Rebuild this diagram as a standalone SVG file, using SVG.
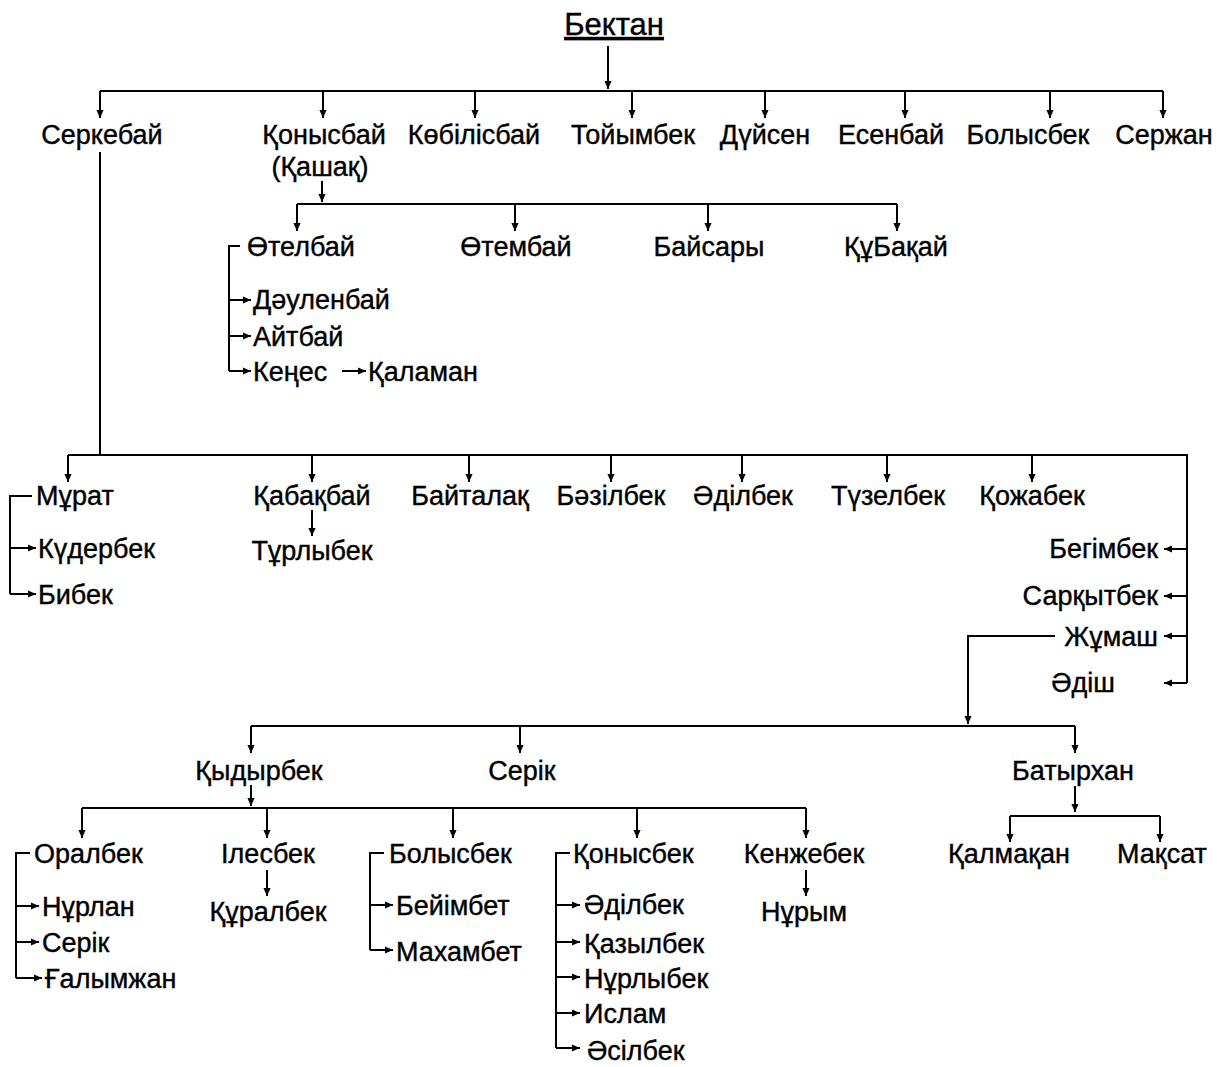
<svg xmlns="http://www.w3.org/2000/svg" width="1217" height="1067" viewBox="0 0 1217 1067">
<style>
text{font-family:"Liberation Sans",Arial,sans-serif;font-size:27px;fill:#000;stroke:#000;stroke-width:0.4}
.t{font-size:31px}
.m{text-anchor:middle}
.e{text-anchor:end}
.c{fill:none;stroke:#000;stroke-width:2}
.a{fill:none;stroke:#000;stroke-width:2;marker-end:url(#ah)}
</style>
<defs>
<marker id="ah" viewBox="0 0 10 10" refX="10" refY="5" markerWidth="10" markerHeight="8" orient="auto" markerUnits="userSpaceOnUse"><path d="M0,0.5 L10,5 L0,9.5 z" fill="#000"/></marker>
</defs>
<g id="connectors">
<path class="a" d="M608,46 V89"/>
<path class="c" d="M100,91 H1163"/>
<path class="a" d="M100,91 V118"/>
<path class="a" d="M323,91 V118"/>
<path class="a" d="M475,91 V118"/>
<path class="a" d="M632,91 V118"/>
<path class="a" d="M765,91 V118"/>
<path class="a" d="M905,91 V118"/>
<path class="a" d="M1050,91 V118"/>
<path class="a" d="M1163,91 V118"/>
<path class="a" d="M322,181 V202"/>
<path class="c" d="M297,204 H897"/>
<path class="a" d="M297,204 V231"/>
<path class="a" d="M515,204 V231"/>
<path class="a" d="M708,204 V231"/>
<path class="a" d="M897,204 V231"/>
<path class="c" d="M240,246 H229 V371"/>
<path class="a" d="M229,300 H251"/>
<path class="a" d="M229,336 H251"/>
<path class="a" d="M229,371 H251"/>
<path class="a" d="M342,371 H366"/>
<path class="c" d="M100,152 V455"/>
<path class="c" d="M68,455 H1187 V683"/>
<path class="a" d="M68,455 V482"/>
<path class="a" d="M312,455 V482"/>
<path class="a" d="M469,455 V482"/>
<path class="a" d="M611,455 V482"/>
<path class="a" d="M742,455 V482"/>
<path class="a" d="M887,455 V482"/>
<path class="a" d="M1032,455 V482"/>
<path class="a" d="M1187,549 H1164"/>
<path class="a" d="M1187,596 H1164"/>
<path class="a" d="M1187,636 H1164"/>
<path class="a" d="M1187,683 H1164"/>
<path class="c" d="M32,496 H10 V594"/>
<path class="a" d="M10,548 H36"/>
<path class="a" d="M10,594 H36"/>
<path class="a" d="M312,510 V536"/>
<path class="c" d="M1055,636 H968 V700"/>
<path class="a" d="M968,636 V724"/>
<path class="c" d="M251,726 H1075"/>
<path class="a" d="M251,726 V753"/>
<path class="a" d="M520,726 V753"/>
<path class="a" d="M1075,726 V753"/>
<path class="a" d="M251,785 V806"/>
<path class="c" d="M82,808 H806"/>
<path class="a" d="M82,808 V838"/>
<path class="a" d="M267,808 V838"/>
<path class="a" d="M453,808 V838"/>
<path class="a" d="M637,808 V838"/>
<path class="a" d="M806,808 V838"/>
<path class="a" d="M1075,786 V812"/>
<path class="c" d="M1010,816 H1160"/>
<path class="a" d="M1010,816 V842"/>
<path class="a" d="M1160,816 V842"/>
<path class="c" d="M30,853 H16 V978"/>
<path class="a" d="M16,906 H39"/>
<path class="a" d="M16,942 H39"/>
<path class="a" d="M16,978 H42"/>
<path class="a" d="M267,870 V896"/>
<path class="c" d="M384,853 H370 V950"/>
<path class="a" d="M370,905 H393"/>
<path class="a" d="M370,950 H393"/>
<path class="c" d="M570,853 H556 V1048"/>
<path class="a" d="M556,905 H580"/>
<path class="a" d="M556,942 H580"/>
<path class="a" d="M556,977 H580"/>
<path class="a" d="M556,1013 H580"/>
<path class="a" d="M556,1048 H580"/>
<path class="a" d="M806,870 V896"/>
</g>
<g id="n-bektan"><text class="m t" x="614" y="35" text-decoration="underline">Бектан</text></g>
<g id="n-serkebai"><text class="m" x="102" y="144">Серкебай</text></g>
<g id="n-konysbai"><text class="m" x="324" y="144">Қонысбай</text><text class="m" x="320" y="176">(Қашақ)</text></g>
<g id="n-kobilisbai"><text class="m" x="474" y="144">Көбілісбай</text></g>
<g id="n-toiymbek"><text class="m" x="633" y="144">Тойымбек</text></g>
<g id="n-duisen"><text class="m" x="765" y="144">Дүйсен</text></g>
<g id="n-esenbai"><text class="m" x="891" y="144">Есенбай</text></g>
<g id="n-bolysbek1"><text class="m" x="1028" y="144">Болысбек</text></g>
<g id="n-serzhan"><text class="m" x="1164" y="144">Сержан</text></g>
<g id="n-otelbai"><text x="247" y="256">Өтелбай</text></g>
<g id="n-otembai"><text class="m" x="516" y="256">Өтембай</text></g>
<g id="n-baisary"><text class="m" x="709" y="256">Байсары</text></g>
<g id="n-kubakai"><text class="m" x="896" y="256">ҚұБақай</text></g>
<g id="n-daulenbai"><text x="253" y="309">Дәуленбай</text></g>
<g id="n-aitbai"><text x="253" y="346">Айтбай</text></g>
<g id="n-kenes"><text x="253" y="381">Кеңес</text></g>
<g id="n-kalaman"><text x="368" y="381">Қаламан</text></g>
<g id="n-murat"><text x="36" y="505">Мұрат</text></g>
<g id="n-kabakbai"><text class="m" x="312" y="505">Қабақбай</text></g>
<g id="n-baitalak"><text class="m" x="470" y="505">Байталақ</text></g>
<g id="n-bazilbek"><text class="m" x="611" y="505">Бәзілбек</text></g>
<g id="n-adilbek1"><text class="m" x="743" y="505">Әділбек</text></g>
<g id="n-tuzelbek"><text class="m" x="888" y="505">Түзелбек</text></g>
<g id="n-kozhabek"><text class="m" x="1032" y="505">Қожабек</text></g>
<g id="n-kuderbek"><text x="38" y="558">Күдербек</text></g>
<g id="n-bibek"><text x="38" y="604">Бибек</text></g>
<g id="n-turlybek"><text class="m" x="312" y="560">Тұрлыбек</text></g>
<g id="n-begimbek"><text class="e" x="1158" y="558">Бегімбек</text></g>
<g id="n-sarkytbek"><text class="e" x="1158" y="605">Сарқытбек</text></g>
<g id="n-zhumash"><text class="e" x="1158" y="646">Жұмаш</text></g>
<g id="n-adish"><text class="e" x="1115" y="692">Әдіш</text></g>
<g id="n-kydyrbek"><text class="m" x="259" y="780">Қыдырбек</text></g>
<g id="n-serik1"><text class="m" x="522" y="780">Серік</text></g>
<g id="n-batyrkhan"><text class="m" x="1073" y="780">Батырхан</text></g>
<g id="n-oralbek"><text x="34" y="863">Оралбек</text></g>
<g id="n-ilesbek"><text class="m" x="268" y="863">Ілесбек</text></g>
<g id="n-bolysbek2"><text x="389" y="863">Болысбек</text></g>
<g id="n-konysbek"><text x="573" y="863">Қонысбек</text></g>
<g id="n-kenzhebek"><text class="m" x="804" y="863">Кенжебек</text></g>
<g id="n-kalmakan"><text class="m" x="1009" y="863">Қалмақан</text></g>
<g id="n-maksat"><text class="m" x="1162" y="863">Мақсат</text></g>
<g id="n-nurlan"><text x="42" y="916">Нұрлан</text></g>
<g id="n-serik2"><text x="42" y="952">Серік</text></g>
<g id="n-galymzhan"><text x="45" y="988">Ғалымжан</text></g>
<g id="n-kuralbek"><text class="m" x="268" y="921">Құралбек</text></g>
<g id="n-beiimbet"><text x="396" y="915">Бейімбет</text></g>
<g id="n-makhambet"><text x="396" y="961">Махамбет</text></g>
<g id="n-adilbek2"><text x="584" y="914">Әділбек</text></g>
<g id="n-kazylbek"><text x="584" y="953">Қазылбек</text></g>
<g id="n-nurlybek"><text x="584" y="988">Нұрлыбек</text></g>
<g id="n-islam"><text x="584" y="1023">Ислам</text></g>
<g id="n-asilbek"><text x="587" y="1060">Әсілбек</text></g>
<g id="n-nurym"><text class="m" x="804" y="921">Нұрым</text></g>
</svg>
